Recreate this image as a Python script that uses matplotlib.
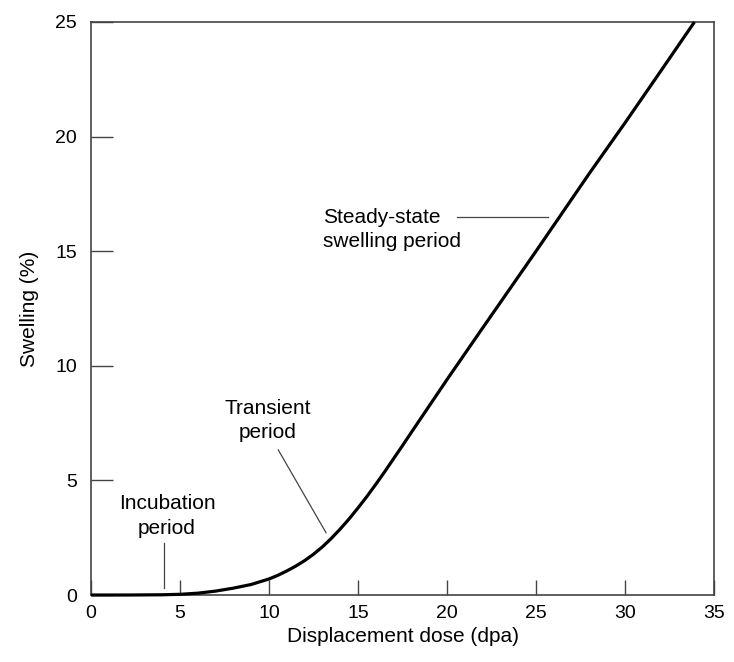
import matplotlib
matplotlib.use("Agg")
import matplotlib.pyplot as plt

plt.rcParams['font.family'] = ['Liberation Sans', 'DejaVu Sans']

# Data
dose = [0, 2, 4, 5, 6, 7, 8, 9, 10, 10.5, 11, 11.5, 12, 12.5, 13, 13.5, 14, 14.5,
        15, 15.5, 16, 16.5, 17, 17.5, 18, 19, 20, 22, 25, 28, 30, 32, 33.9]
swelling = [0, 0.0, 0.01, 0.03, 0.08, 0.17, 0.30, 0.46, 0.70, 0.86, 1.05, 1.26, 1.50, 1.78,
            2.10, 2.47, 2.88, 3.32, 3.80, 4.30, 4.83, 5.38, 5.95, 6.52, 7.10, 8.25, 9.40,
            11.65, 15.0, 18.4, 20.6, 22.85, 25.0]

x_ticks = [0, 5, 10, 15, 20, 25, 30, 35]
y_ticks = [0, 5, 10, 15, 20, 25]

gray = '#444444'

fig = plt.figure(figsize=(7.34, 6.62), dpi=100)
ax = fig.add_axes([0.124, 0.1012, 0.8488, 0.8656])

ax.plot(dose, swelling, color='black', lw=2.3, solid_capstyle='butt',
        solid_joinstyle='round', clip_on=False, zorder=3)

ax.set_xlim(0, 35)
ax.set_ylim(0, 25)
ax.set_xticks(x_ticks)
ax.set_yticks(y_ticks)
ax.tick_params(axis='x', direction='in', length=10.8, width=1.0, color=gray, labelsize=14, pad=7)
ax.tick_params(axis='y', direction='in', length=15.6, width=1.0, color=gray, labelsize=14, pad=10)
for s in ax.spines.values():
    s.set_color(gray)
    s.set_linewidth(1.2)

ax.set_xlabel('Displacement dose (dpa)', fontsize=15, labelpad=4)
ax.set_ylabel('Swelling (%)', fontsize=15, labelpad=12)

# Annotations
ax.text(4.27, 3.45, 'Incubation\nperiod', ha='center', va='center', fontsize=15, linespacing=1.35)
ax.plot([4.12, 4.12], [2.26, 0.32], color=gray, lw=0.9)

ax.text(9.94, 7.62, 'Transient\nperiod', ha='center', va='center', fontsize=15, linespacing=1.35)
ax.plot([10.52, 13.2], [6.33, 2.72], color=gray, lw=0.9)

ax.text(13.03, 15.93, 'Steady-state\nswelling period', ha='left', va='center', fontsize=15, linespacing=1.35)
ax.plot([20.54, 25.67], [16.5, 16.5], color=gray, lw=0.9)

fig.savefig('out.png', dpi=100)
